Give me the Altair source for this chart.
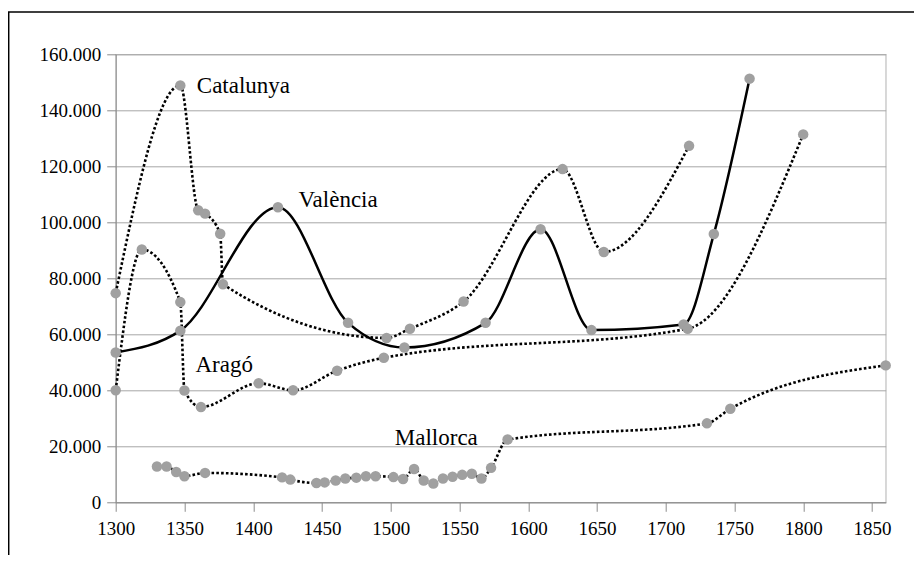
import altair as alt
import pandas as pd

# ---- data ----
series_names = ["Catalunya", "València", "Aragó", "Mallorca"]

cat_years = [1300, 1347, 1360, 1365, 1376, 1378, 1497, 1514, 1553, 1625, 1655, 1717]
cat_vals = [74700, 148900, 104300, 103100, 95900, 77900, 58700, 62000, 71700, 119000, 89400, 127300]

val_years = [1300, 1347, 1418, 1469, 1510, 1569, 1609, 1646, 1713, 1735, 1761]
val_vals = [53500, 61300, 105400, 64100, 55300, 64100, 97500, 61500, 63500, 95800, 151300]

ara_years = [1300, 1319, 1347, 1350, 1362, 1404, 1429, 1461, 1495, 1716, 1800]
ara_vals = [40000, 90300, 71500, 39900, 34000, 42500, 40000, 47000, 51600, 62000, 131400]

mal_years = [1330, 1337, 1344, 1350, 1365, 1421, 1427, 1446, 1452, 1460, 1467, 1475, 1482,
             1489, 1502, 1509, 1517, 1524, 1531, 1538, 1545, 1552, 1559, 1566, 1573, 1585,
             1730, 1747, 1860]
mal_vals = [12800, 12800, 10800, 9300, 10500, 8900, 8100, 6900, 7100, 7800, 8500, 8800, 9300,
            9300, 9000, 8300, 11900, 7800, 6700, 8500, 9100, 9800, 10200, 8500, 12300, 22400,
            28200, 33400, 48900]

# label anchors (year, value)
label_years = [1359, 1433, 1358, 1503]
label_vals = [148700, 108000, 49000, 23000]

x_ticks = [1300, 1350, 1400, 1450, 1500, 1550, 1600, 1650, 1700, 1750, 1800, 1850]
y_ticks = [0, 20000, 40000, 60000, 80000, 100000, 120000, 140000, 160000]

rows = []
for name, ys, vs in zip(series_names,
                        [cat_years, val_years, ara_years, mal_years],
                        [cat_vals, val_vals, ara_vals, mal_vals]):
    for yr, v in zip(ys, vs):
        rows.append({"serie": name, "any": yr, "valor": v})
df = pd.DataFrame(rows)

lab_df = pd.DataFrame({"label": series_names, "any": label_years, "valor": label_vals})

FONT = "Liberation Serif, Times New Roman, DejaVu Serif, serif"

x_enc = alt.X("any:Q",
              scale=alt.Scale(domain=[1300, 1860], nice=False, zero=False),
              axis=alt.Axis(values=x_ticks, format="d", title=None, grid=False,
                            tickSize=9, labelPadding=8, labelFont=FONT, labelFontSize=19,
                            labelColor="black", domainColor="#8C8C8C", tickColor="#8C8C8C",
                            labelFlush=False))
y_enc = alt.Y("valor:Q",
              scale=alt.Scale(domain=[0, 160000], nice=False),
              axis=alt.Axis(values=y_ticks, title=None, grid=True, gridColor="#A6A6A6",
                            tickSize=9, labelPadding=6, labelFont=FONT, labelFontSize=19,
                            labelColor="black", domainColor="#8C8C8C", tickColor="#8C8C8C",
                            labelExpr="replace(format(datum.value, ','), ',', '.')"))

base = alt.Chart(df)

border = alt.Chart(pd.DataFrame({"k": [0]})).mark_rect(
    fillOpacity=0, stroke="black", strokeWidth=1.5
).encode(x=alt.value(-107), y=alt.value(-42.3), x2=alt.value(900), y2=alt.value(600))

solid = base.transform_filter(alt.datum.serie == "València").mark_line(
    interpolate="monotone", color="black", strokeWidth=2.5
).encode(x=x_enc, y=y_enc, detail="serie:N")

dotted = base.transform_filter(alt.datum.serie != "València").mark_line(
    interpolate="monotone", color="black", strokeWidth=2.6, strokeDash=[2.6, 2.2]
).encode(x=x_enc, y=y_enc, detail="serie:N")

points = base.mark_circle(size=110, color="#A0A0A0", opacity=1).encode(x=x_enc, y=y_enc)

labels = alt.Chart(lab_df).mark_text(
    font=FONT, fontSize=23, align="left", baseline="middle", color="black"
).encode(x="any:Q", y="valor:Q", text="label:N")

chart = alt.layer(border, solid, dotted, points, labels).properties(
    width=770, height=448,
    padding={"left": 107.7, "top": 46.3, "right": 28, "bottom": 53},
    autosize=alt.AutoSizeParams(type="none"),
    background="white",
).configure_view(stroke="#BFBFBF", strokeWidth=1.2)

chart.save("out.html", embed_options={"renderer": "svg", "actions": False})
